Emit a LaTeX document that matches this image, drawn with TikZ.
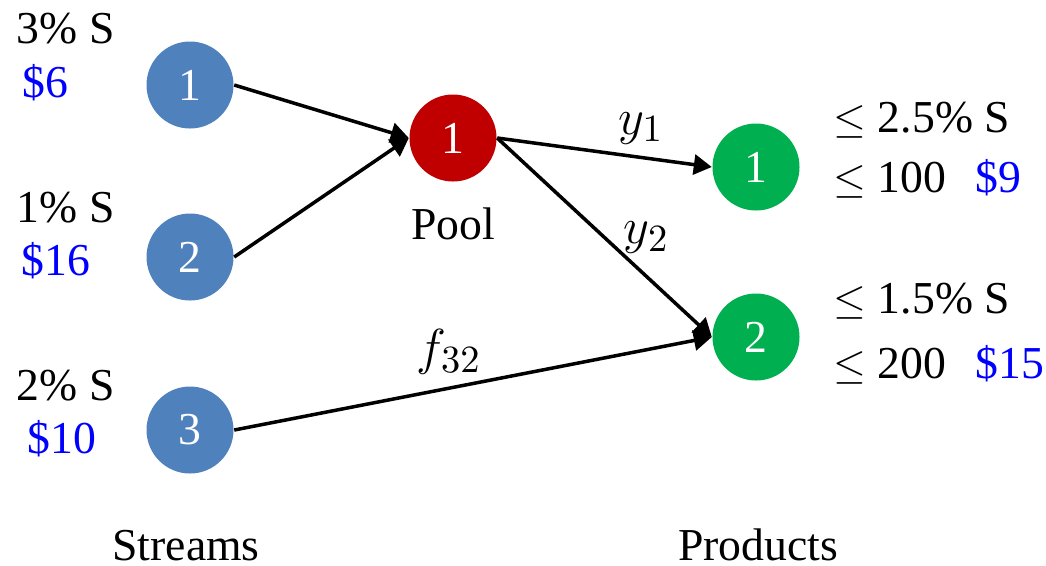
\documentclass[tikz,border=0pt]{standalone}
\usepackage{fontspec}
\setmainfont{Liberation Serif}
\usetikzlibrary{arrows.meta}
\definecolor{streamblue}{HTML}{4F81BD}
\definecolor{poolred}{HTML}{C00000}
\definecolor{prodgreen}{HTML}{00B050}
\begin{document}
\begin{tikzpicture}[font=\fontsize{13}{15}\selectfont,
  ball/.style={circle,minimum size=0.87cm,inner sep=0pt,text=white},
  flow/.style={-{Triangle[length=0.18cm,width=0.2cm]},line width=0.035cm},
  flowlab/.style={font=\fontsize{15}{17}\selectfont},
  spec/.style={anchor=base west,inner sep=0pt},
  price/.style={spec,text=blue}]
\useasboundingbox (0,0) rectangle (10.46,-5.65);
% streams
\node[ball,fill=streamblue] (s1) at (1.90,-0.85) {1};
\node[ball,fill=streamblue] (s2) at (1.90,-2.57) {2};
\node[ball,fill=streamblue] (s3) at (1.90,-4.30) {3};
\node[spec] (q1) at (0.16,-0.43) {3\% S};
\node[price] (c1) at (0.22,-0.97) {\$6};
\node[spec] (q2) at (0.16,-2.22) {1\% S};
\node[price] (c2) at (0.21,-2.75) {\$16};
\node[spec] (q3) at (0.16,-4.00) {2\% S};
\node[price] (c3) at (0.27,-4.53) {\$10};
% pool
\node[ball,fill=poolred] (pool) at (4.53,-1.38) {1};
\node[anchor=base] (poollab) at (4.53,-2.39) {Pool};
% products
\node[ball,fill=prodgreen] (p1) at (7.56,-1.67) {1};
\node[ball,fill=prodgreen] (p2) at (7.56,-3.37) {2};
\node[spec] (r1) at (8.33,-1.32) {$\le$ 2.5\% S};
\node[spec] (d1) at (8.33,-1.92) {$\le$ 100};
\node[price] (c4) at (9.75,-1.92) {\$9};
\node[spec] (r2) at (8.33,-3.13) {$\le$ 1.5\% S};
\node[spec] (d2) at (8.33,-3.78) {$\le$ 200};
\node[price] (c5) at (9.75,-3.78) {\$15};
% flows
\draw[flow] (s1.east) -- (pool.west);
\draw[flow] (s2.east) -- (pool.west);
\draw[flow] (pool.east) -- node[flowlab,pos=0.67,above] {$y_1$} (p1.west);
\draw[flow] (pool.east) -- node[flowlab,pos=0.5,right,xshift=0.06cm] {$y_2$} (p2.west);
\draw[flow] (s3.east) -- node[flowlab,pos=0.45,above] {$f_{32}$} (p2.west);
\node[anchor=base] (streams) at (1.86,-5.60) {Streams};
\node[anchor=base] (products) at (7.58,-5.60) {Products};
\end{tikzpicture}
\end{document}
